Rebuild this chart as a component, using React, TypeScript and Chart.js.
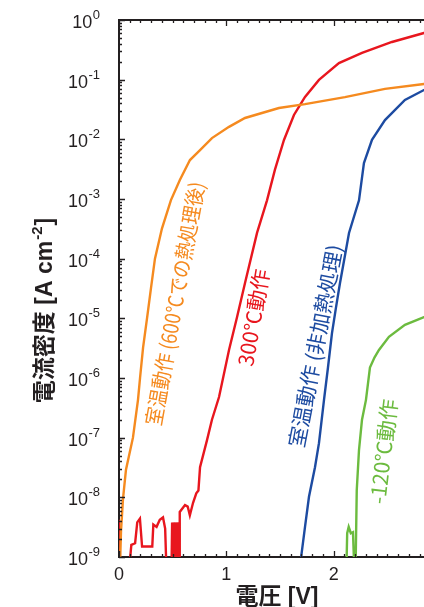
import React, { useEffect, useRef } from "react";
import { Chart, registerables } from "chart.js";

Chart.register(...registerables);

// 室温動作（600℃での熱処理後）
const rt600V = [0.01, 0.019, 0.037, 0.065, 0.13, 0.177, 0.196, 0.224, 0.261, 0.298, 0.335, 0.4, 0.484, 0.568, 0.661, 0.755, 0.866, 1.025, 1.174, 1.49, 1.733, 2.105, 2.478, 2.841, 3.0];
const rt600J = [8e-10, 2.8e-9, 9.3e-9, 2.9e-8, 1.0e-7, 4.3e-7, 1.0e-6, 3.2e-6, 1.0e-5, 3.2e-5, 1.0e-4, 3.2e-4, 9.6e-4, 2.1e-3, 4.5e-3, 6.6e-3, 1.05e-2, 1.62e-2, 2.28e-2, 3.35e-2, 3.9e-2, 5.1e-2, 7.0e-2, 8.45e-2, 9.3e-2];

// 300℃動作
const t300V = [0.0, 0.008, 0.01, 0.1, 0.115, 0.15, 0.17, 0.195, 0.215, 0.31, 0.32, 0.35, 0.38, 0.41, 0.43, 0.44, 0.49, 0.495, 0.5, 0.51, 0.515, 0.525, 0.53, 0.54, 0.545, 0.555, 0.56, 0.566, 0.615, 0.64, 0.66, 0.69, 0.72, 0.74, 0.755, 0.82, 0.866, 0.932, 1.025, 1.1, 1.174, 1.286, 1.379, 1.453, 1.537, 1.63, 1.686, 1.733, 1.863, 2.049, 2.264, 2.543, 2.841, 3.0];
const t300J = [4.2e-9, 4.2e-9, 8e-10, 8e-10, 1.6e-9, 1.7e-9, 3.8e-9, 4.4e-9, 1.5e-9, 1.5e-9, 3.5e-9, 3.2e-9, 4.2e-9, 4.6e-9, 3.0e-9, 8e-10, 8e-10, 3.8e-9, 8e-10, 3.8e-9, 8e-10, 3.8e-9, 8e-10, 3.8e-9, 8e-10, 3.8e-9, 8e-10, 5.7e-9, 7.4e-9, 7.0e-9, 5.0e-9, 8.1e-9, 1.17e-8, 1.3e-8, 3.2e-8, 9.1e-8, 2.0e-7, 4.8e-7, 2.95e-6, 1.05e-5, 3.9e-5, 2.7e-4, 9.5e-4, 3.1e-3, 9.75e-3, 2.56e-2, 3.76e-2, 5.13e-2, 9.9e-2, 0.19, 0.28, 0.428, 0.605, 0.706];

// 室温動作（非加熱処理）
const rtV = [1.69, 1.733, 1.77, 1.826, 1.863, 1.91, 1.947, 1.984, 2.021, 2.059, 2.143, 2.236, 2.282, 2.357, 2.478, 2.664, 2.841, 3.0];
const rtJ = [8e-10, 3.2e-9, 1.02e-8, 3.2e-8, 8.1e-8, 4.3e-7, 1.5e-6, 5.6e-6, 1.5e-5, 3.9e-5, 2.7e-4, 9.5e-4, 4.0e-3, 9.8e-3, 2.1e-2, 4.56e-2, 6.7e-2, 8.1e-2];

// -120℃動作
const m120V = [2.12, 2.126, 2.14, 2.16, 2.18, 2.19, 2.205, 2.215, 2.236, 2.264, 2.301, 2.338, 2.38, 2.422, 2.515, 2.664, 2.841, 3.0];
const m120J = [8e-10, 2.5e-9, 3.2e-9, 2.5e-9, 2.6e-9, 8e-10, 8e-10, 1.3e-8, 6.2e-8, 2.0e-7, 4.3e-7, 1.5e-6, 2.2e-6, 2.95e-6, 4.9e-6, 7.8e-6, 1.05e-5, 1.2e-5];

const seriesNames = ["室温動作 (600℃での熱処理後)", "300℃動作", "室温動作 (非加熱処理)", "-120℃動作"];
const xTickLabels = ["0", "1", "2"];
// y tick labels as base and exponent, for decades 10^-9 … 10^0
const yTickBase = "10";
const yTickExponents = ["-9", "-8", "-7", "-6", "-5", "-4", "-3", "-2", "-1", "0"];
const xTitle = "電圧 [V]";
const yTitleMain = "電流密度 [A cm";
const yTitleSup = "-2";
const yTitleEnd = "]";

const COLORS = ["#f58a1f", "#e8161e", "#1d4ba1", "#6cbb3f"];
const INK = "#231f20";
const TICK_FONT = "'Liberation Sans', Arial, sans-serif";
const TITLE_FONT = "'Liberation Sans', 'Noto Sans CJK JP', sans-serif";
const NOTE_FONT = "'Noto Sans CJK JP', sans-serif";

// In-plot curve labels: anchor in data units, rotation in degrees, max run length in px
const notes = [
  { v: 0.522, j: Math.pow(10, -4.751), angle: -79.7, maxW: 247 },
  { v: 1.253, j: Math.pow(10, -4.986), angle: -80.3, maxW: 103 },
  { v: 1.83, j: Math.pow(10, -5.463), angle: -79.1, maxW: 206 },
  { v: 2.464, j: Math.pow(10, -7.232), angle: -83.3, maxW: 112 },
];

const toPoints = (xs: number[], ys: number[]) => xs.map((x, i) => ({ x, y: ys[i] }));

const frameTicks = {
  id: "frameTicks",
  afterDatasetsDraw(chart: any) {
    const { ctx, chartArea: a, scales } = chart;
    const xs = scales.x;
    const ys = scales.y;
    ctx.save();
    ctx.strokeStyle = INK;
    ctx.lineWidth = 2;
    ctx.beginPath();
    ctx.moveTo(a.left - 1, a.top);
    ctx.lineTo(a.right, a.top);
    ctx.stroke();

    ctx.lineWidth = 1.3;
    ctx.beginPath();
    for (let i = 0; i <= 30; i++) {
      const px = Math.round(xs.getPixelForValue(i / 10)) + 0.5;
      const len = i % 10 === 0 ? 6 : 3;
      ctx.moveTo(px, a.bottom);
      ctx.lineTo(px, a.bottom - len);
      ctx.moveTo(px, a.top);
      ctx.lineTo(px, a.top + len);
    }
    for (let e = -9; e <= 0; e++) {
      for (let m = 1; m <= 9; m++) {
        if (e === 0 && m > 1) break;
        const py = Math.round(ys.getPixelForValue(m * Math.pow(10, e))) + 0.5;
        const len = m === 1 ? 6 : 3;
        ctx.moveTo(a.left, py);
        ctx.lineTo(a.left + len, py);
      }
    }
    ctx.stroke();
    ctx.restore();
  },
  afterDraw(chart: any) {
    const { ctx, chartArea: a, scales } = chart;
    const xs = scales.x;
    const ys = scales.y;
    ctx.save();
    ctx.fillStyle = INK;

    // y tick labels: "10" with a raised exponent, right-aligned to the axis
    ctx.textBaseline = "alphabetic";
    yTickExponents.forEach((ex, k) => {
      const py = ys.getPixelForValue(Math.pow(10, k - 9));
      const right = a.left - 19;
      ctx.font = `13px ${TICK_FONT}`;
      ctx.textAlign = "right";
      const supW = ctx.measureText(ex).width;
      ctx.fillText(ex, right, py - 1);
      ctx.font = `18px ${TICK_FONT}`;
      ctx.fillText(yTickBase, right - supW - 0.5, py + 8);
    });

    // axis titles
    ctx.textBaseline = "middle";
    ctx.textAlign = "center";
    ctx.font = `bold 23px ${TITLE_FONT}`;
    ctx.fillText(xTitle, (a.left + a.right) / 2 - 3, a.bottom + 41);

    ctx.save();
    ctx.translate(46, (a.top + a.bottom) / 2 + 22);
    ctx.rotate(-Math.PI / 2);
    const mainFont = `bold 23px ${TITLE_FONT}`;
    const supFont = `bold 15px ${TITLE_FONT}`;
    ctx.font = mainFont;
    const w1 = ctx.measureText(yTitleMain).width;
    const w3 = ctx.measureText(yTitleEnd).width;
    ctx.font = supFont;
    const w2 = ctx.measureText(yTitleSup).width;
    const total = w1 + w2 + w3 + 2;
    let cx = -total / 2;
    ctx.textAlign = "left";
    ctx.font = mainFont;
    ctx.fillText(yTitleMain, cx, 0);
    cx += w1 + 1;
    ctx.font = supFont;
    ctx.fillText(yTitleSup, cx, -8);
    cx += w2 + 1;
    ctx.font = mainFont;
    ctx.fillText(yTitleEnd, cx, 0);
    ctx.restore();

    // curve labels
    ctx.textAlign = "center";
    ctx.font = `21px ${NOTE_FONT}`;
    notes.forEach((n, i) => {
      ctx.save();
      ctx.fillStyle = COLORS[i];
      ctx.translate(xs.getPixelForValue(n.v), ys.getPixelForValue(n.j));
      ctx.rotate((n.angle * Math.PI) / 180);
      ctx.fillText(seriesNames[i], 0, 0, n.maxW);
      ctx.restore();
    });
    ctx.restore();
  },
};

export default function App() {
  const ref = useRef<HTMLCanvasElement>(null);

  useEffect(() => {
    const canvas = ref.current;
    if (!canvas) return;
    const series = [
      toPoints(rt600V, rt600J),
      toPoints(t300V, t300J),
      toPoints(rtV, rtJ),
      toPoints(m120V, m120J),
    ];
    const chart = new Chart(canvas, {
      type: "line",
      data: {
        datasets: series.map((data, i) => ({
          label: seriesNames[i],
          data,
          borderColor: COLORS[i],
          backgroundColor: COLORS[i],
          borderWidth: 2.4,
          pointRadius: 0,
          tension: 0,
          fill: false,
        })),
      },
      options: {
        animation: false,
        responsive: false,
        devicePixelRatio: 1,
        layout: { padding: { top: 20, right: 5, left: 0, bottom: 0 } },
        plugins: { legend: { display: false }, tooltip: { enabled: false } },
        scales: {
          x: {
            type: "linear",
            min: 0,
            max: 3,
            afterFit: (s: any) => {
              s.height = 73;
              s.paddingLeft = 0;
              s.paddingRight = 0;
            },
            grid: { display: false, drawTicks: false },
            border: { display: true, color: INK, width: 2 },
            ticks: {
              stepSize: 1,
              maxRotation: 0,
              autoSkip: false,
              padding: 7,
              color: INK,
              font: { family: TICK_FONT, size: 18 },
              callback: (v: any) => xTickLabels[Number(v)] ?? "",
            },
          },
          y: {
            type: "logarithmic",
            min: 1e-9,
            max: 1,
            afterFit: (s: any) => {
              s.width = 119;
              s.paddingTop = 0;
              s.paddingBottom = 0;
            },
            grid: { display: false, drawTicks: false },
            border: { display: true, color: INK, width: 2 },
            ticks: { display: false },
          },
        },
      },
      plugins: [frameTicks],
    });
    return () => chart.destroy();
  }, []);

  return (
    <div
      style={{
        position: "fixed",
        left: 0,
        top: 0,
        width: 424,
        height: 607,
        overflow: "hidden",
        background: "#ffffff",
      }}
    >
      <canvas ref={ref} width={446} height={630} style={{ display: "block", width: 446, height: 630 }} />
    </div>
  );
}
